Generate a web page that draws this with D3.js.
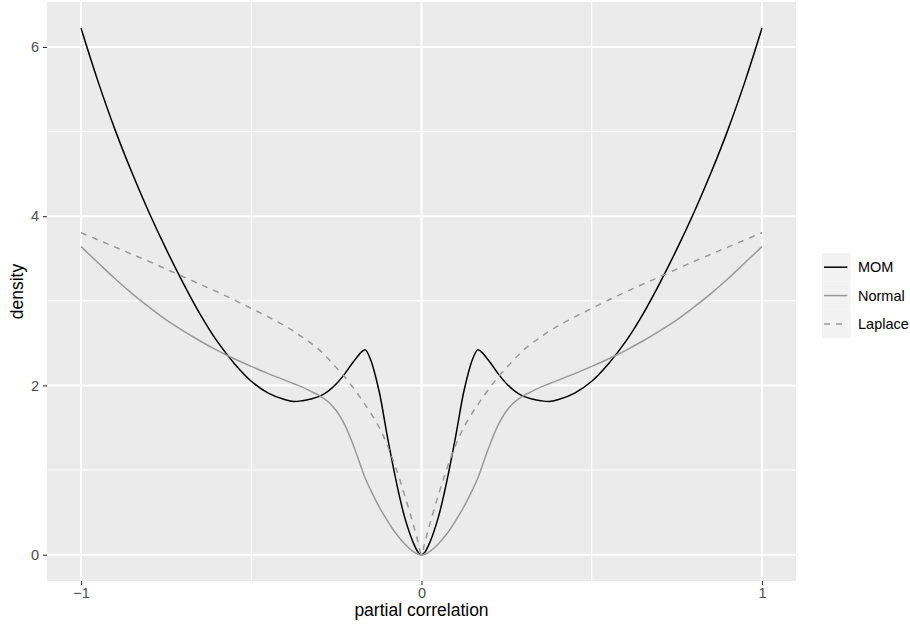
<!DOCTYPE html>
<html>
<head>
<meta charset="utf-8">
<script src="https://cdn.jsdelivr.net/npm/d3@7"></script>
<style>
  html, body { margin: 0; padding: 0; background: #ffffff; }
  svg { display: block; font-family: "Liberation Sans", Arial, Helvetica, sans-serif; }
</style>
</head>
<body>
<svg id="chart" width="910" height="625"></svg>
<script>
// Partial-correlation grid (shared by all three densities)
const xs = [
  -1.0, -0.95, -0.9, -0.85, -0.8, -0.75, -0.7, -0.65, -0.6, -0.55, -0.5, -0.45, -0.4,
  -0.375, -0.35, -0.325, -0.3, -0.275, -0.25, -0.225, -0.2, -0.175, -0.165, -0.15, -0.125,
  -0.1, -0.075, -0.05, -0.025, -0.01, 0,
  0.01, 0.025, 0.05, 0.075, 0.1, 0.125, 0.15, 0.165, 0.175, 0.2, 0.225, 0.25, 0.275, 0.3,
  0.325, 0.35, 0.375, 0.4, 0.45, 0.5, 0.55, 0.6, 0.65, 0.7, 0.75, 0.8, 0.85, 0.9, 0.95, 1.0
];

// Density values for each prior
const momDensity = [
  6.22, 5.59, 5.02, 4.51, 4.04, 3.61, 3.21, 2.84, 2.52, 2.26, 2.05, 1.91, 1.83,
  1.81, 1.82, 1.84, 1.87, 1.93, 2.02, 2.14, 2.28, 2.40, 2.42, 2.31, 1.94,
  1.39, 0.88, 0.45, 0.15, 0.03, 0.0,
  0.03, 0.15, 0.45, 0.88, 1.39, 1.94, 2.31, 2.42, 2.40, 2.28, 2.14, 2.02, 1.93, 1.87,
  1.84, 1.82, 1.81, 1.83, 1.91, 2.05, 2.26, 2.52, 2.84, 3.21, 3.61, 4.04, 4.51, 5.02, 5.59, 6.22
];
const normalDensity = [
  3.64, 3.45, 3.26, 3.085, 2.925, 2.775, 2.645, 2.525, 2.415, 2.315, 2.225, 2.14, 2.06,
  2.02, 1.98, 1.93, 1.88, 1.81, 1.70, 1.53, 1.29, 1.01, 0.90, 0.77, 0.57,
  0.40, 0.25, 0.13, 0.04, 0.006, 0.0,
  0.006, 0.04, 0.13, 0.25, 0.40, 0.57, 0.77, 0.90, 1.01, 1.29, 1.53, 1.70, 1.81, 1.88,
  1.93, 1.98, 2.02, 2.06, 2.14, 2.225, 2.315, 2.415, 2.525, 2.645, 2.775, 2.925, 3.085, 3.26, 3.45, 3.64
];
const laplaceDensity = [
  3.805, 3.72, 3.635, 3.55, 3.465, 3.375, 3.285, 3.195, 3.105, 3.01, 2.91, 2.81, 2.70,
  2.64, 2.57, 2.50, 2.42, 2.32, 2.21, 2.10, 1.97, 1.83, 1.77, 1.68, 1.51,
  1.29, 1.02, 0.71, 0.37, 0.15, 0.0,
  0.15, 0.37, 0.71, 1.02, 1.29, 1.51, 1.68, 1.77, 1.83, 1.97, 2.10, 2.21, 2.32, 2.42,
  2.50, 2.57, 2.64, 2.70, 2.81, 2.91, 3.01, 3.105, 3.195, 3.285, 3.375, 3.465, 3.55, 3.635, 3.72, 3.805
];

const seriesNames = ["MOM", "Normal", "Laplace"];
const xTicks = [-1, 0, 1];
const xMinor = [-0.5, 0.5];
const yTicks = [0, 2, 4, 6];
const yMinor = [1, 3, 5];

const styles = {
  MOM:     { color: "#000000", dash: null },
  Normal:  { color: "#999999", dash: null },
  Laplace: { color: "#999999", dash: "6,6" }
};

const seriesValues = { MOM: momDensity, Normal: normalDensity, Laplace: laplaceDensity };

const panel = { left: 47, right: 796, top: 2, bottom: 581 };

const svg = d3.select("#chart");

// 5% expansion of the data range on both axes
const xExt = d3.extent(xs);
const xPad = (xExt[1] - xExt[0]) * 0.05;
const x = d3.scaleLinear()
  .domain([xExt[0] - xPad, xExt[1] + xPad])
  .range([panel.left, panel.right]);

const yMax = d3.max([momDensity, normalDensity, laplaceDensity].flat());
const yPad = yMax * 0.05;
const y = d3.scaleLinear()
  .domain([0 - yPad, yMax + yPad])
  .range([panel.bottom, panel.top]);

// Panel background
svg.append("rect")
  .attr("x", panel.left).attr("y", panel.top)
  .attr("width", panel.right - panel.left)
  .attr("height", panel.bottom - panel.top)
  .attr("fill", "#EBEBEB");

const grid = svg.append("g");
// Minor grid
grid.selectAll(".xminor").data(xMinor).join("line")
  .attr("x1", d => x(d)).attr("x2", d => x(d))
  .attr("y1", panel.top).attr("y2", panel.bottom)
  .attr("stroke", "#ffffff").attr("stroke-width", 1);
grid.selectAll(".yminor").data(yMinor).join("line")
  .attr("y1", d => y(d)).attr("y2", d => y(d))
  .attr("x1", panel.left).attr("x2", panel.right)
  .attr("stroke", "#ffffff").attr("stroke-width", 1);
// Major grid
grid.selectAll(".xmajor").data(xTicks).join("line")
  .attr("x1", d => x(d)).attr("x2", d => x(d))
  .attr("y1", panel.top).attr("y2", panel.bottom)
  .attr("stroke", "#ffffff").attr("stroke-width", 2);
grid.selectAll(".ymajor").data(yTicks).join("line")
  .attr("y1", d => y(d)).attr("y2", d => y(d))
  .attr("x1", panel.left).attr("x2", panel.right)
  .attr("stroke", "#ffffff").attr("stroke-width", 2);

// Density curves
const line = d3.line()
  .x(d => x(d[0]))
  .y(d => y(d[1]))
  .curve(d3.curveCatmullRom.alpha(0.5));

svg.append("clipPath").attr("id", "panel-clip")
  .append("rect")
  .attr("x", panel.left).attr("y", panel.top)
  .attr("width", panel.right - panel.left)
  .attr("height", panel.bottom - panel.top);

const curves = svg.append("g").attr("clip-path", "url(#panel-clip)");
seriesNames.forEach(name => {
  const pts = xs.map((v, i) => [v, seriesValues[name][i]]);
  curves.append("path")
    .datum(pts)
    .attr("d", line)
    .attr("fill", "none")
    .attr("stroke", styles[name].color)
    .attr("stroke-width", 1.5)
    .attr("stroke-dasharray", styles[name].dash)
    .attr("stroke-linejoin", "round");
});

// Axes
const tickFmt = d => d < 0 ? "\u2212" + Math.abs(d) : String(d);

const xAxis = d3.axisBottom(x).tickValues(xTicks).tickFormat(tickFmt)
  .tickSize(4).tickPadding(3);
const gx = svg.append("g")
  .attr("transform", `translate(0,${panel.bottom})`)
  .call(xAxis);
gx.select(".domain").remove();
gx.selectAll(".tick line").attr("stroke", "#333333").attr("stroke-width", 1.1);
gx.selectAll(".tick text").attr("fill", "#4D4D4D").attr("font-size", 14.5)
  .attr("font-family", "Liberation Sans, Arial, sans-serif");

const yAxis = d3.axisLeft(y).tickValues(yTicks).tickFormat(tickFmt)
  .tickSize(4).tickPadding(4);
const gy = svg.append("g")
  .attr("transform", `translate(${panel.left},0)`)
  .call(yAxis);
gy.select(".domain").remove();
gy.selectAll(".tick line").attr("stroke", "#333333").attr("stroke-width", 1.1);
gy.selectAll(".tick text").attr("fill", "#4D4D4D").attr("font-size", 14.5)
  .attr("font-family", "Liberation Sans, Arial, sans-serif");

// Axis titles
svg.append("text")
  .attr("x", (panel.left + panel.right) / 2)
  .attr("y", 616)
  .attr("text-anchor", "middle")
  .attr("font-size", 17.5)
  .attr("fill", "#000000")
  .text("partial correlation");

svg.append("text")
  .attr("transform", `translate(23,${(panel.top + panel.bottom) / 2}) rotate(-90)`)
  .attr("text-anchor", "middle")
  .attr("font-size", 17.5)
  .attr("fill", "#000000")
  .text("density");

// Legend
const legend = svg.append("g").attr("transform", "translate(822,253)");
const keySize = 28.4;
seriesNames.forEach((name, i) => {
  const g = legend.append("g").attr("transform", `translate(0,${i * keySize})`);
  g.append("rect")
    .attr("width", keySize).attr("height", keySize)
    .attr("fill", "#F2F2F2");
  g.append("line")
    .attr("x1", 2).attr("x2", keySize - 3)
    .attr("y1", keySize / 2).attr("y2", keySize / 2)
    .attr("stroke", styles[name].color)
    .attr("stroke-width", 1.5)
    .attr("stroke-dasharray", styles[name].dash);
  g.append("text")
    .attr("x", 36).attr("y", keySize / 2)
    .attr("dy", "0.35em")
    .attr("font-size", 14.5)
    .attr("fill", "#000000")
    .text(name);
});
</script>
</body>
</html>
